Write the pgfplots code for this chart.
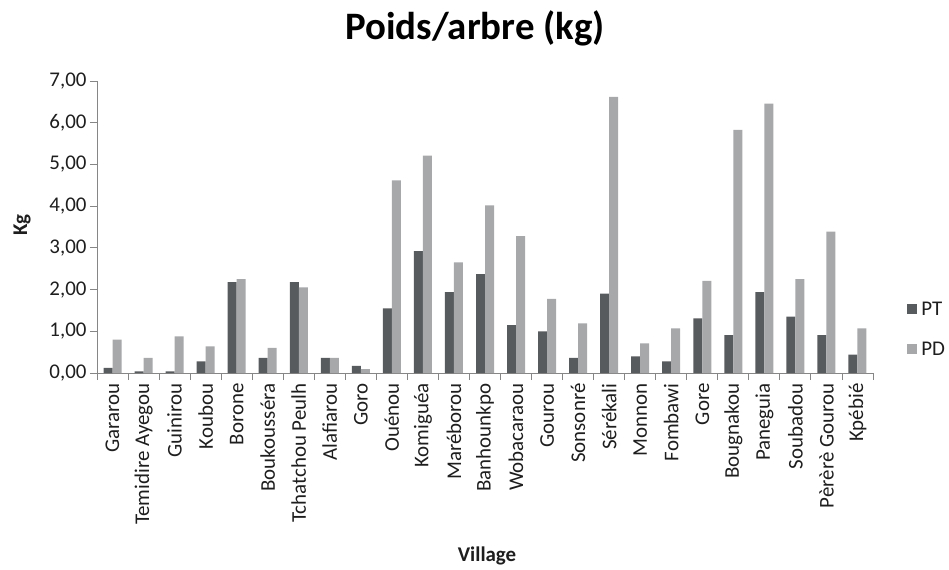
\documentclass[border=0pt]{standalone}
\usepackage{fontspec}
\setmainfont{Carlito}
\usepackage{pgfplots}
\pgfplotsset{compat=1.18}
\definecolor{ptc}{RGB}{88,91,93}
\definecolor{pdc}{RGB}{166,168,170}
\definecolor{axc}{RGB}{134,134,134}
\definecolor{txt}{RGB}{30,30,30}
\pgfplotstableread{
x PT PD
0 0.12 0.80
1 0.04 0.36
2 0.04 0.88
3 0.28 0.64
4 2.18 2.25
5 0.36 0.60
6 2.18 2.05
7 0.36 0.36
8 0.17 0.09
9 1.55 4.62
10 2.92 5.21
11 1.94 2.65
12 2.37 4.02
13 1.15 3.28
14 1.00 1.78
15 0.36 1.19
16 1.90 6.62
17 0.40 0.71
18 0.28 1.07
19 1.31 2.21
20 0.91 5.83
21 1.94 6.46
22 1.35 2.25
23 0.91 3.39
24 0.44 1.07
}\datatable
\begin{document}
\begin{tikzpicture}
\path[use as bounding box] (-97bp,-197bp) rectangle (852bp,373bp);
\begin{axis}[
  scale only axis, width=776bp, height=292bp,
  at={(0,0)}, anchor=south west,
  xmin=-0.5, xmax=24.5, ymin=0, ymax=7,
  axis lines*=left,
  axis line style={draw=axc, line width=0.9bp},
  ybar=0pt, bar width=9bp,
  tick align=outside,
  major tick length=7bp, minor tick length=7bp,
  xtick={0,...,24},
  xticklabels={Gararou, Temidire Ayegou, Guinirou, Koubou, Borone, Boukousséra, Tchatchou Peulh, Alafiarou, Goro, Ouénou, Komiguéa, Maréborou, Banhounkpo, Wobacaraou, Gourou, Sonsonré, Sérékali, Monnon, Fombawi, Gore, Bougnakou, Paneguia, Soubadou, Pèrèrè Gourou, Kpébié},
  major x tick style={draw=none},
  minor xtick={-0.5,0.5,...,24.5},
  minor x tick style={draw=axc, line width=0.9bp},
  ytick={0,1,...,7},
  y tick style={draw=axc, line width=0.9bp},
  /pgf/number format/assume math mode=true,
  yticklabel={\pgfmathprintnumber[fixed,fixed zerofill,precision=2,use comma]{\tick}},
  ticklabel style={font=\fontsize{21}{24}\selectfont, text=txt},
  xticklabel style={rotate=90, anchor=east},
  xticklabel shift=0bp,
  title={Poids/arbre (kg)},
  title style={at={(axis description cs:0.487,1.123)}, anchor=base, font=\bfseries\fontsize{39}{44}\selectfont, text=black},
  xlabel={Village},
  xlabel style={at={(axis description cs:0.5026,-0.628)}, anchor=center, font=\bfseries\fontsize{21}{24}\selectfont, text=txt},
  ylabel={Kg},
  ylabel style={at={(axis description cs:-0.0966,0.507)}, anchor=center, rotate=0, font=\bfseries\fontsize{21}{24}\selectfont, text=txt},
  legend style={at={(axis description cs:1.044,0.150)}, anchor=west, draw=none, fill=none, font=\fontsize{21}{24}\selectfont, text=txt, row sep=21bp, inner sep=0pt},
  legend cell align=left,
  clip=false,
]
\addplot[fill=ptc, draw=none, legend image code/.code={\fill[ptc] (0bp,-5bp) rectangle (10bp,5bp); \path (12bp,0bp);}] table[x=x, y=PT] {\datatable};
\addplot[fill=pdc, draw=none, legend image code/.code={\fill[pdc] (0bp,-5bp) rectangle (10bp,5bp); \path (12bp,0bp);}] table[x=x, y=PD] {\datatable};
\legend{PT, PD}
\end{axis}
\end{tikzpicture}
\end{document}
